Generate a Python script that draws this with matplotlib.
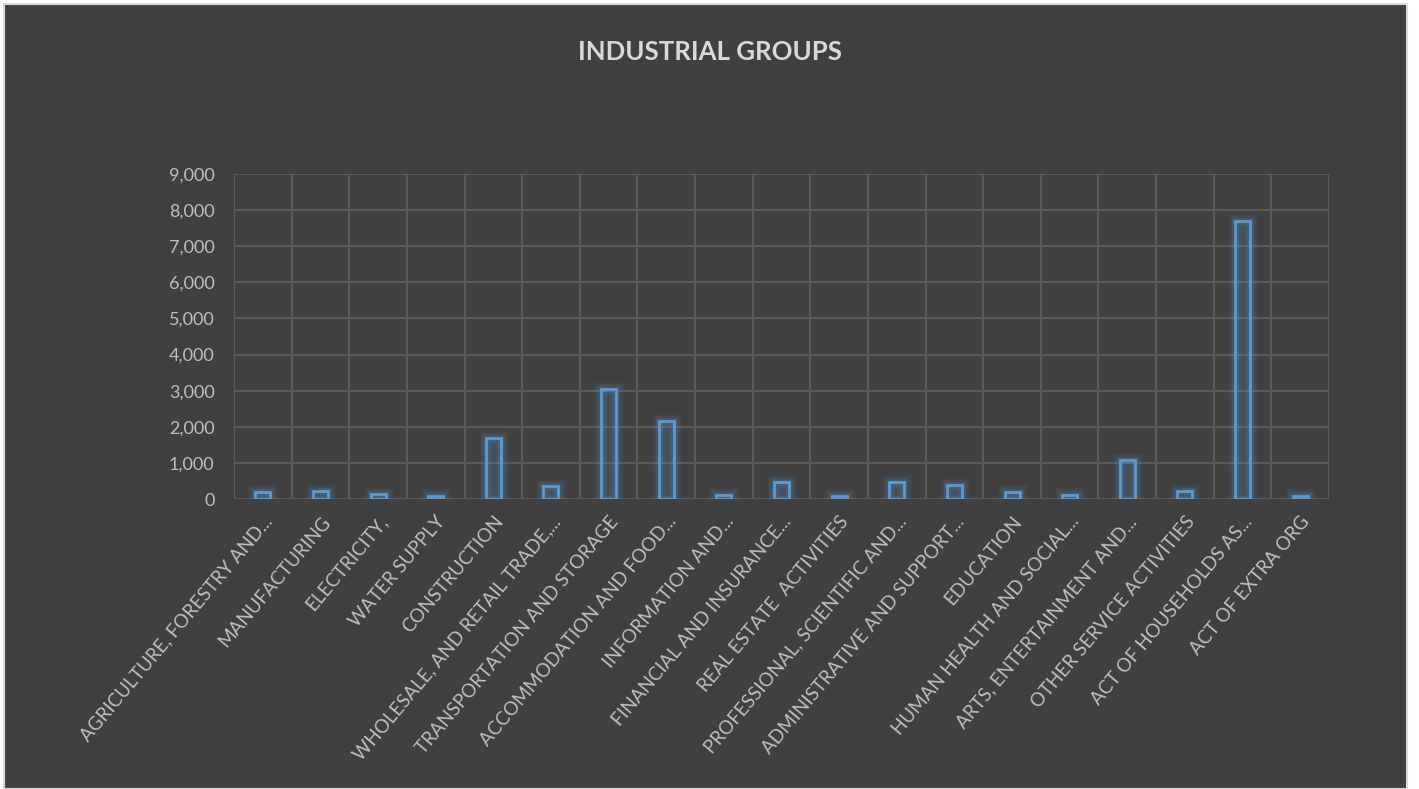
import numpy as np
import matplotlib.pyplot as plt
from matplotlib.patches import Rectangle

# Datos
categorias = [
    'AGRICULTURE, FORESTRY AND...', 'MANUFACTURING', 'ELECTRICITY,', 'WATER SUPPLY',
    'CONSTRUCTION', 'WHOLESALE, AND RETAIL TRADE,...', 'TRANSPORTATION AND STORAGE',
    'ACCOMMODATION AND FOOD...', 'INFORMATION AND...', 'FINANCIAL AND INSURANCE...',
    'REAL ESTATE  ACTIVITIES', 'PROFESSIONAL, SCIENTIFIC AND...',
    'ADMINISTRATIVE AND SUPPORT...', 'EDUCATION', 'HUMAN HEALTH AND SOCIAL...',
    'ARTS, ENTERTAINMENT AND...', 'OTHER SERVICE ACTIVITIES', 'ACT OF HOUSEHOLDS AS...',
    'ACT OF EXTRA ORG',
]
valores = [185, 230, 150, 85, 1680, 350, 3050, 2170, 120, 460, 85, 460, 390, 185,
           120, 1070, 220, 7700, 85]
yticks = [0, 1000, 2000, 3000, 4000, 5000, 6000, 7000, 8000, 9000]

fondo = '#404040'
azul = '#5B9BD5'
texto = '#BFBFBF'

fig = plt.figure(figsize=(14.19, 7.89), dpi=100, facecolor='white')
# marco del grafico
fig.patches.append(Rectangle((4 / 1419, 0), 1403 / 1419, 785 / 789, transform=fig.transFigure,
                             facecolor=fondo, edgecolor='#D9D9D9', linewidth=1.5, zorder=-10))

ax = fig.add_axes([234 / 1419, 1 - 499 / 789, (1329 - 234) / 1419, (499 - 174) / 789])
ax.set_facecolor(fondo)

x = np.arange(len(categorias))
ancho = 0.26

# brillo alrededor de las barras
for lw, a in [(11, 0.06), (8, 0.09), (5, 0.14)]:
    ax.bar(x, valores, width=ancho, facecolor='none', edgecolor=azul, linewidth=lw,
           alpha=a, zorder=2)
ax.bar(x, valores, width=ancho, facecolor=(0.357, 0.608, 0.835, 0.12), edgecolor=azul,
       linewidth=2, zorder=3)

ax.set_xlim(-0.5, len(categorias) - 0.5)
ax.set_ylim(0, 9000)
ax.set_yticks(yticks)
ax.set_yticklabels([f'{v:,}' for v in yticks], color=texto, fontsize=13, family='Lato')
ax.set_xticks(x)
ax.set_xticklabels(categorias, rotation=50, ha='right', rotation_mode='anchor',
                   color=texto, fontsize=13.5, family='Lato')
ax.tick_params(axis='y', length=0, pad=14)
ax.tick_params(axis='x', length=0, pad=10)

# rejilla
ax.set_xticks(np.arange(-0.5, len(categorias), 1), minor=True)
ax.tick_params(which='minor', length=0)
ax.grid(axis='x', which='minor', color='#595959', linewidth=1.5, zorder=1)
ax.grid(axis='y', which='major', color='#595959', linewidth=1.5, zorder=1)
ax.set_axisbelow(True)
for s in ax.spines.values():
    s.set_visible(False)

fig.text(0.5, 1 - 52 / 789, 'INDUSTRIAL GROUPS', ha='center', va='center', color='#D9D9D9',
         fontsize=18.5, fontweight='bold', family='Lato')

fig.savefig('out.png', dpi=100, facecolor=fig.get_facecolor())
